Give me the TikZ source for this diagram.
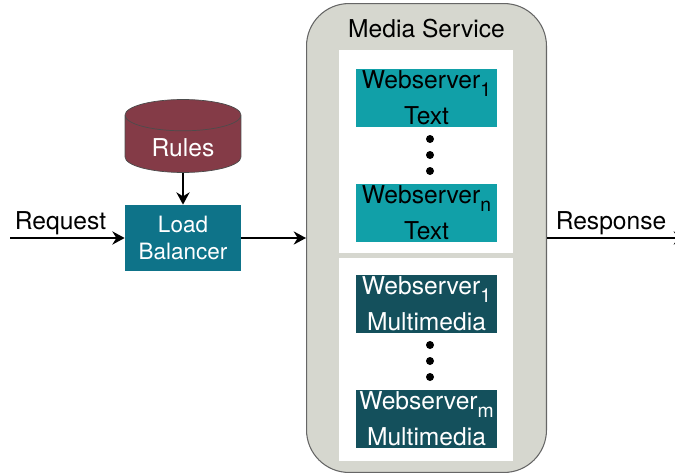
\documentclass[tikz,border=0pt]{standalone}
\usepackage{fontspec}
\setmainfont{TeX Gyre Heros}
\usetikzlibrary{arrows.meta,shapes.geometric}
\definecolor{servicegray}{HTML}{D6D7CF}
\definecolor{textteal}{HTML}{11A0A8}
\definecolor{mediateal}{HTML}{14505C}
\definecolor{balancerteal}{HTML}{0E7389}
\definecolor{rulesred}{HTML}{843B47}
\newcommand{\websub}[1]{\raisebox{-4.5pt}[0pt][0pt]{\fontsize{11}{11}\selectfont #1}}
\tikzset{
	flow/.style={line width=1.3pt,-{Stealth[length=7pt,width=7.5pt]}},
	label/.style={font=\fontsize{14}{16}\selectfont,inner sep=0pt},
	panel/.style={fill=white,minimum width=3.48cm,minimum height=4.06cm,inner sep=0pt},
	webbox/.style={minimum width=2.82cm,minimum height=1.16cm,inner sep=0pt,align=center,font=\fontsize{14}{20.4}\selectfont},
	webtext/.style={webbox,fill=textteal,text=black},
	webmedia/.style={webbox,fill=mediateal,text=white},
	vdot/.style={circle,fill=black,minimum size=0.16cm,inner sep=0pt}
}
\begin{document}
\begin{tikzpicture}[x=0.02cm,y=-0.02cm]
	\useasboundingbox (0,0) rectangle (675,473);
	\node[draw=black!60,line width=0.6pt,fill=servicegray,rounded corners=0.85cm,minimum width=4.8cm,minimum height=9.38cm,inner sep=0pt] (service) at (426.5,238) {};
	\node[label] (servicename) at (426.5,29) {Media Service};
	\node[panel] (panelup) at (426,151.5) {};
	\node[panel] (paneldown) at (426,359.5) {};
	\node[webtext] (textfirst) at (426.5,98) {Webserver\websub{1}\\Text};
	\node[webtext] (textlast) at (426.5,213) {Webserver\websub{n}\\Text};
	\node[webmedia] (mediafirst) at (426.5,304) {Webserver\websub{1}\\Multimedia};
	\node[webmedia] (medialast) at (426.5,419) {Webserver\websub{m}\\Multimedia};
	\foreach \y in {139,155,171} \node[vdot] (dotup\y) at (430,\y) {};
	\foreach \y in {345,361,377} \node[vdot] (dotdown\y) at (430,\y) {};
	\node[cylinder,shape border rotate=90,draw=black!70,line width=0.4pt,fill=rulesred,text=white,aspect=0.5,minimum width=2.32cm,minimum height=1.4cm,inner sep=0pt,text height=14.6pt,text depth=0pt,font=\fontsize{14}{16}\selectfont] (rules) at (183,144) {Rules};
	\node[fill=balancerteal,text=white,minimum width=2.32cm,minimum height=1.32cm,inner sep=0pt,align=center,font=\fontsize{12.8}{15.3}\selectfont] (balancer) at (183,238) {Load\\Balancer};
	\coordinate (reqstart) at (10,238);
	\coordinate (respend) at (686,238);
	\draw[flow] (rules) -- (balancer);
	\draw[flow] (reqstart) -- (balancer);
	\draw[flow] (balancer) -- (service);
	\draw[flow] (service) -- (respend);
	\node[label] (request) at (60.5,223) {Request};
	\node[label] (response) at (611,223) {Response};
\end{tikzpicture}
\end{document}
